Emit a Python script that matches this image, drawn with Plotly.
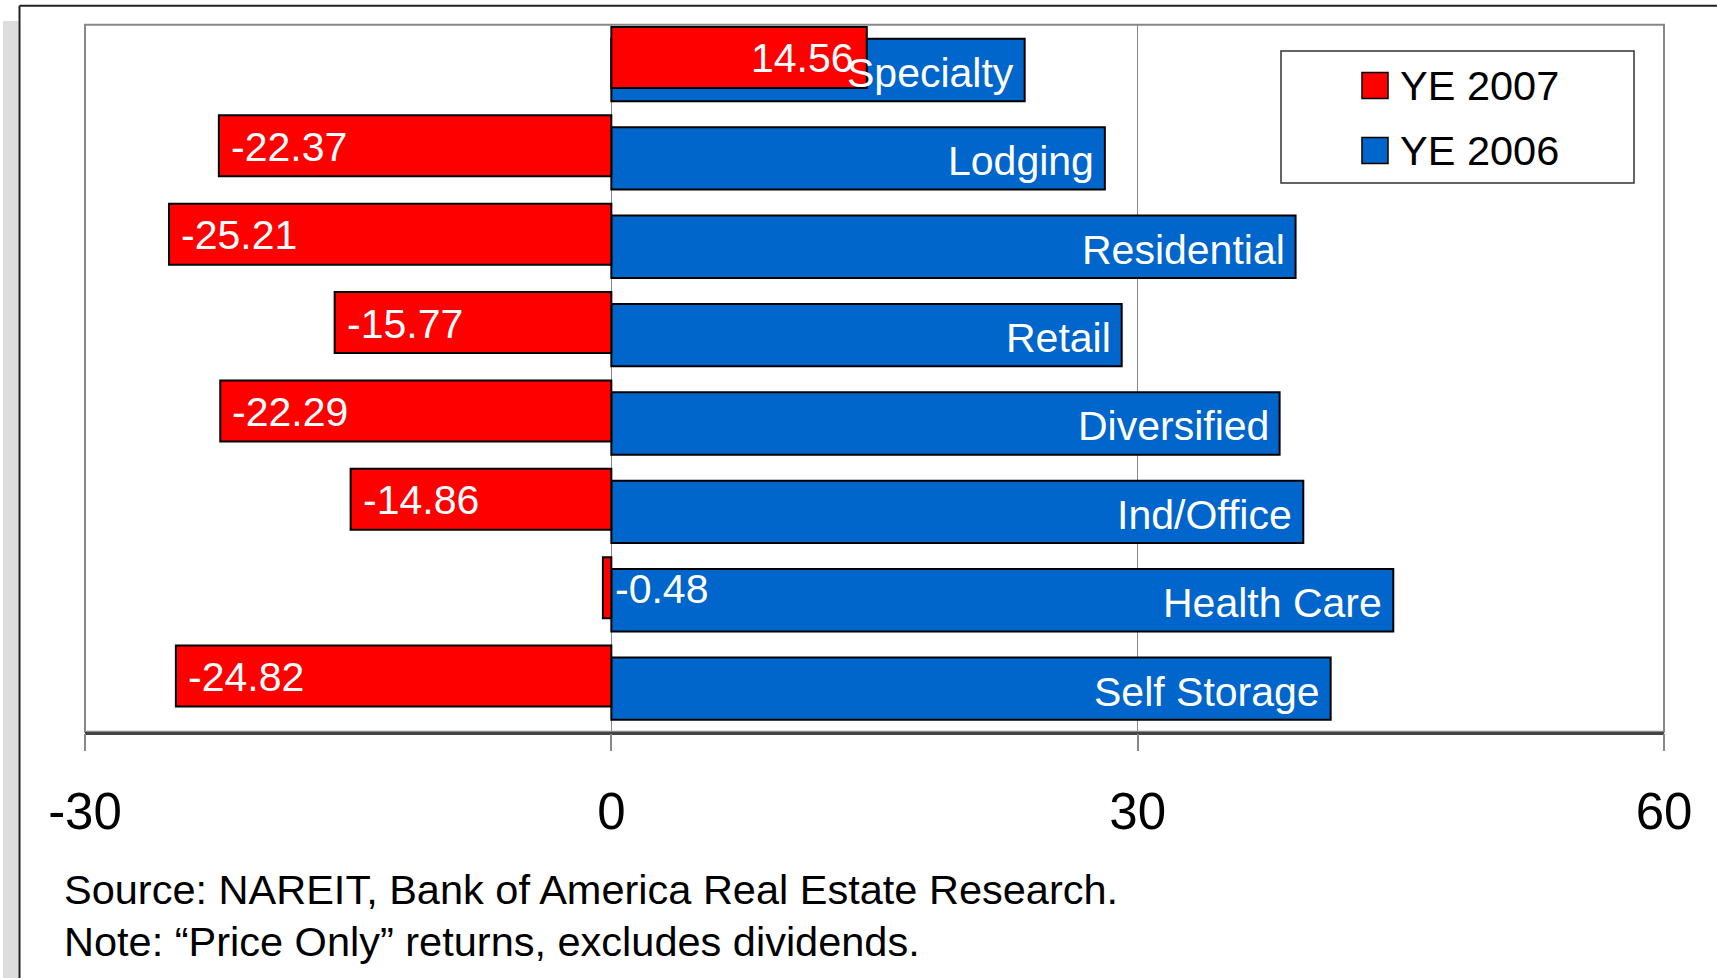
import plotly.graph_objects as go

# REIT sector price-only returns (%)
categories = ["Specialty", "Lodging", "Residential", "Retail",
              "Diversified", "Ind/Office", "Health Care", "Self Storage"]
ye_2007 = [14.56, -22.37, -25.21, -15.77, -22.29, -14.86, -0.48, -24.82]
ye_2006 = [23.56, 28.13, 39.00, 29.09, 38.09, 39.44, 44.57, 41.00]
x_ticks = [-30, 0, 30, 60]
legend_names = ["YE 2007", "YE 2006"]
footer_lines = [
    "Source: NAREIT, Bank of America Real Estate Research.",
    "Note: \u201cPrice Only\u201d returns, excludes dividends.",
]

W, H = 1717, 978
FONT = "Liberation Sans, Arial, sans-serif"
RED = "#FF0000"
BLUE = "#0066CC"


def px(x):
    return x / W


def py(y):
    return 1 - y / H


# plot area in pixels
PL, PR, PT, PB = 85, 1664, 24.7, 731.7
band = (PB - PT) / len(categories)

# bar geometry in category units (red sits above and overlaps blue)
red_off, red_w = -0.475, 0.69
blue_off, blue_w = -0.34, 0.705
red_center_shift = -(red_off + red_w / 2) * band
blue_center_shift = -(blue_off + blue_w / 2) * band

fig = go.Figure()
fig.add_trace(go.Bar(
    y=categories, x=ye_2006, orientation="h", name=legend_names[1],
    offset=blue_off, width=blue_w,
    marker=dict(color=BLUE, line=dict(color="black", width=2)),
    showlegend=False, hoverinfo="x+y",
))
fig.add_trace(go.Bar(
    y=categories, x=ye_2007, orientation="h", name=legend_names[0],
    offset=red_off, width=red_w,
    marker=dict(color=RED, line=dict(color="black", width=2)),
    showlegend=False, hoverinfo="x+y",
))

annotations = []
# sector names inside the blue bars
for cat, v in zip(categories, ye_2006):
    annotations.append(dict(
        x=v, y=cat, xref="x", yref="y", text=cat, showarrow=False,
        xanchor="right", yanchor="middle", xshift=-9,
        yshift=blue_center_shift - 3,
        font=dict(family=FONT, size=41, color="white"),
    ))
# value labels at the end of the red bars
for cat, v in zip(categories, ye_2007):
    annotations.append(dict(
        x=v, y=cat, xref="x", yref="y", text=f"{v:.2f}", showarrow=False,
        xanchor="right" if v > 0 else "left",
        xshift=-11 if v > 0 else 10,
        yanchor="middle", yshift=red_center_shift - 1,
        font=dict(family=FONT, size=41, color="white"),
    ))

# footer notes
for i, line in enumerate(footer_lines):
    annotations.append(dict(
        x=px(62), y=py(889 + i * 52.5), xref="paper", yref="paper",
        text=line, showarrow=False, xanchor="left", yanchor="middle",
        font=dict(family=FONT, size=41.5, color="black"),
    ))

shapes = [
    # grey strip and black frame around the slide area
    dict(type="rect", xref="paper", yref="paper", x0=px(3), x1=px(18.5),
         y0=py(H), y1=py(21), fillcolor="#DDDDDD", line=dict(width=0),
         layer="below"),
    dict(type="line", xref="paper", yref="paper", x0=px(19.5), x1=px(W),
         y0=py(5.7), y1=py(5.7), line=dict(color="#222222", width=2)),
    dict(type="line", xref="paper", yref="paper", x0=px(19.5), x1=px(19.5),
         y0=py(5.7), y1=py(H), line=dict(color="#222222", width=2)),
    # plot area border
    dict(type="rect", xref="paper", yref="paper", x0=px(PL), x1=px(PR),
         y0=py(PB), y1=py(PT), line=dict(color="#888888", width=2),
         layer="below"),
]

# legend box with swatches
LX0, LX1, LY0, LY1 = 1281, 1634, 51, 183
shapes.append(dict(type="rect", xref="paper", yref="paper",
                   x0=px(LX0), x1=px(LX1), y0=py(LY1), y1=py(LY0),
                   line=dict(color="#333333", width=1.5), fillcolor="white"))
for i, (name, col) in enumerate(zip(legend_names, [RED, BLUE])):
    cy = 85.5 + i * 65
    shapes.append(dict(type="rect", xref="paper", yref="paper",
                       x0=px(1362), x1=px(1388), y0=py(cy + 13), y1=py(cy - 13),
                       fillcolor=col, line=dict(color="black", width=1.5)))
    annotations.append(dict(
        x=px(1398), y=py(cy), xref="paper", yref="paper", text=name,
        showarrow=False, xanchor="left", yanchor="middle",
        font=dict(family=FONT, size=41.5, color="black"),
    ))

fig.update_layout(
    width=W, height=H,
    margin=dict(l=0, r=0, t=0, b=0, autoexpand=False),
    paper_bgcolor="white", plot_bgcolor="white",
    barmode="overlay",
    showlegend=False,
    font=dict(family=FONT, color="black"),
    xaxis=dict(
        domain=[px(PL), px(PR)], range=[-30, 60],
        automargin=False,
        tickmode="array", tickvals=x_ticks,
        ticktext=[str(t) for t in x_ticks],
        tickfont=dict(family=FONT, size=51, color="black"),
        showgrid=True, gridcolor="#888888", gridwidth=1.2,
        zeroline=False,
        showline=True, linecolor="#444444", linewidth=2.5,
        ticks="outside", ticklen=17, tickwidth=2, tickcolor="#888888",
        ticklabelstandoff=16,
        fixedrange=True,
    ),
    yaxis=dict(
        domain=[py(PB), py(PT)],
        automargin=False,
        type="category", categoryorder="array", categoryarray=categories,
        range=[len(categories) - 0.5, -0.5],
        showticklabels=False, showgrid=False, zeroline=False,
        showline=False, ticks="", fixedrange=True,
    ),
    shapes=shapes,
    annotations=annotations,
)

fig.write_html("out.html")
